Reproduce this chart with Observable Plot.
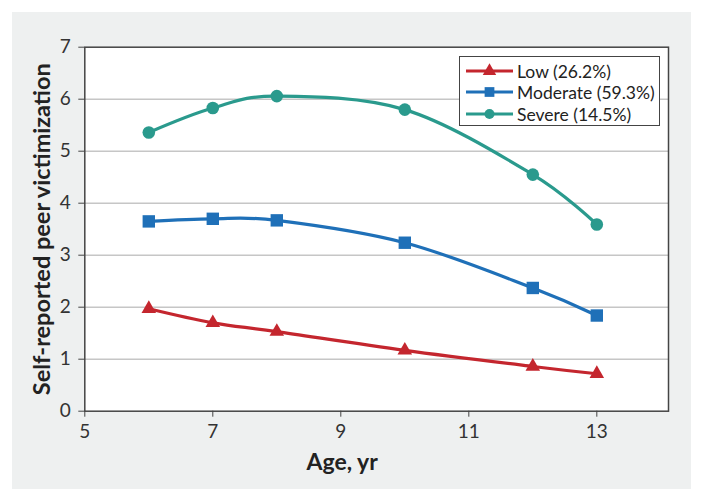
<!DOCTYPE html>
<html>
<head>
<meta charset="utf-8">
<script src="https://cdn.jsdelivr.net/npm/d3@7"></script>
<script src="https://cdn.jsdelivr.net/npm/@observablehq/plot@0.6"></script>
<style>
  html, body { margin: 0; padding: 0; background: #ffffff; }
  #wrap { position: relative; width: 703px; height: 501px; font-family: Lato, sans-serif; }
  #panel { position: absolute; left: 12px; top: 12px; width: 679px; height: 477px; background: #eef0f0; }
  #chart { position: absolute; left: 0; top: 0; }
  #legend { position: absolute; left: 459px; top: 56px; width: 199px; height: 68px; background: #fff;
            border: 1.5px solid #444; box-sizing: content-box; font-size: 17.5px; color: #222; }
  .row { position: absolute; left: 0; height: 20px; display: flex; align-items: center; white-space: nowrap; }
  .row svg { margin-left: 6px; margin-right: 4px; }
</style>
</head>
<body>
<div id="wrap">
  <div id="panel"></div>
  <div id="chart"></div>
  <div id="legend"></div>
</div>
<script>
const ages = [6, 7, 8, 10, 12, 13];
const lowValues = [1.97, 1.70, 1.53, 1.17, 0.86, 0.72];
const moderateValues = [3.65, 3.70, 3.67, 3.24, 2.37, 1.84];
const severeValues = [5.36, 5.83, 6.06, 5.80, 4.55, 3.59];
const seriesNames = ["Low (26.2%)", "Moderate (59.3%)", "Severe (14.5%)"];
const seriesColors = ["#c4262e", "#1f70b8", "#2a9a8d"];
const seriesSymbols = ["triangle", "square", "circle"];
const xTicks = [5, 7, 9, 11, 13];
const yTicks = [0, 1, 2, 3, 4, 5, 6, 7];
const xTitle = "Age, yr";
const yTitle = "Self-reported peer victimization";

const allValues = [lowValues, moderateValues, severeValues];
const rows = [];
allValues.forEach((vals, i) => {
  vals.forEach((v, j) => rows.push({series: seriesNames[i], age: ages[j], value: v}));
});

const colorScale = {domain: seriesNames, range: seriesColors};

const chart = Plot.plot({
  width: 703,
  height: 501,
  marginLeft: 84.3,
  marginRight: 35,
  marginTop: 46.7,
  marginBottom: 90.3,
  style: {background: "transparent", fontFamily: "Lato, sans-serif", color: "#333"},
  x: {domain: [5, 14.12]},
  y: {domain: [0, 7]},
  color: colorScale,
  symbol: {domain: seriesNames, range: seriesSymbols},
  marks: [
    Plot.frame({fill: "white", stroke: null}),
    Plot.gridY(yTicks.filter(t => t > 0 && t < 7), {stroke: "#c6c6c6", strokeOpacity: 1, strokeWidth: 1.5}),
    Plot.line(rows, {x: "age", y: "value", z: "series", stroke: "series", strokeWidth: 3.2, curve: "cardinal", tension: 0}),
    Plot.dot(rows.filter(d => d.series === seriesNames[0]), {x: "age", y: "value", symbol: "series", fill: "series", r: 5.4}),
    Plot.dot(rows.filter(d => d.series === seriesNames[1]), {x: "age", y: "value", symbol: "series", fill: "series", r: 7}),
    Plot.dot(rows.filter(d => d.series === seriesNames[2]), {x: "age", y: "value", symbol: "series", fill: "series", r: 6.3}),
    Plot.frame({stroke: "#444", strokeWidth: 1.5}),
    Plot.axisY({ticks: yTicks, tickFormat: "d", tickSize: 6, tickPadding: 8, fontSize: 19, label: null, stroke: "#444"}),
    Plot.axisX({ticks: xTicks, tickFormat: "d", tickSize: 6, tickPadding: 7, fontSize: 19, label: null, stroke: "#444"}),
    Plot.text([yTitle], {frameAnchor: "left", textAnchor: "middle", lineAnchor: "middle", rotate: -90, dx: -42, fontSize: 23.5, fontWeight: "bold", fill: "#222"}),
    Plot.text([xTitle], {frameAnchor: "bottom", textAnchor: "middle", lineAnchor: "middle", dx: -34.5, dy: 51, fontSize: 23, fontWeight: "bold", fill: "#222"})
  ]
});
document.getElementById("chart").appendChild(chart);

// legend
const legend = document.getElementById("legend");
const rowTops = [4, 25, 47];
seriesNames.forEach((name, i) => {
  const row = document.createElement("div");
  row.className = "row";
  row.style.top = rowTops[i] + "px";
  const sym = d3.symbol(i === 0 ? d3.symbolTriangle : i === 1 ? d3.symbolSquare : d3.symbolCircle,
                        Math.PI * (i === 0 ? 5 : i === 1 ? 5.5 : 5) ** 2)();
  row.innerHTML = `<svg width="47" height="20"><line x1="0" x2="47" y1="10" y2="10" stroke="${seriesColors[i]}" stroke-width="3.2"/>` +
    `<path transform="translate(23.5,10)" d="${sym}" fill="${seriesColors[i]}"/></svg><span>${name}</span>`;
  legend.appendChild(row);
});
</script>
</body>
</html>
